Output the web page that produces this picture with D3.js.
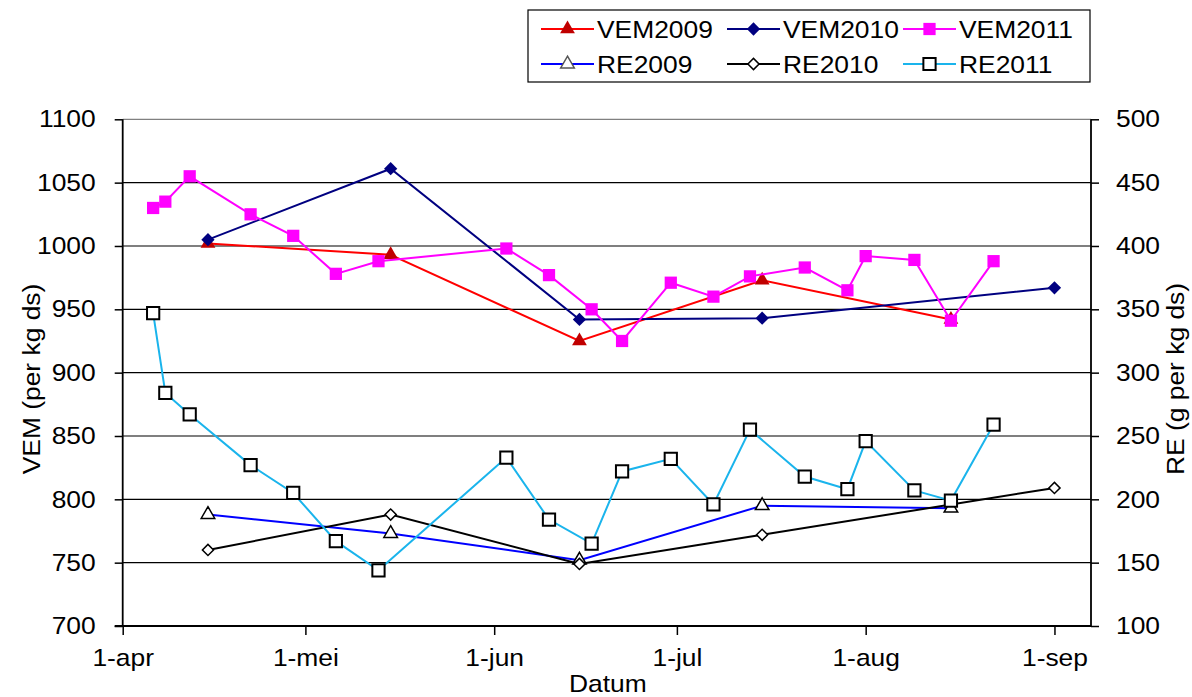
<!DOCTYPE html>
<html><head><meta charset="utf-8">
<script src="https://cdn.jsdelivr.net/npm/d3@7"></script>
<style>
body{margin:0;background:#fff;}
svg text{font-family:"Liberation Sans",Arial,sans-serif;fill:#000;}
.sx{transform-box:fill-box;transform:scaleX(1.1);}
</style></head><body>
<svg id="c" width="1192" height="697"></svg>
<script>
// ---- data ----
const tickDates = ["2011-04-01","2011-05-01","2011-06-01","2011-07-01","2011-08-01","2011-09-01"];
const tickLabels = ["1-apr","1-mei","1-jun","1-jul","1-aug","1-sep"];
const vemTicks = [700,750,800,850,900,950,1000,1050,1100];
const reTicks = [100,150,200,250,300,350,400,450,500];

const dates0910 = ["2011-04-15","2011-05-15","2011-06-15","2011-07-15","2011-08-15"];
const dates2010 = ["2011-04-15","2011-05-15","2011-06-15","2011-07-15","2011-09-01"];
const dates2011 = ["2011-04-06","2011-04-08","2011-04-12","2011-04-22","2011-04-29","2011-05-06","2011-05-13",
  "2011-06-03","2011-06-10","2011-06-17","2011-06-22","2011-06-30","2011-07-07","2011-07-13","2011-07-22",
  "2011-07-29","2011-08-01","2011-08-09","2011-08-15","2011-08-22"];

const vem2009 = [1002, 993, 925, 973, 942];
const vem2010 = [1005, 1061, 942, 943, 967];
const vem2011 = [1030,1035,1055,1025,1008,978,988,998,977,950,925,971,960,976,983,965,992,989,941,988];
const re2009 = [188, 173, 152, 195, 193];
const re2010 = [160, 188, 149, 172, 209];
const re2011 = [347,284,267,227,205,167,144,233,184,165,222,232,196,255,218,208,246,207,199,259];

const seriesNames = ["VEM2009","VEM2010","VEM2011","RE2009","RE2010","RE2011"];

// ---- layout ----
const parse = d3.timeParse("%Y-%m-%d");
const L = 122.7, R = 1091, T = 119.3, B = 626;
const x = d3.scaleTime().domain([parse("2011-04-01"), parse("2011-09-07")]).range([L, R]);
const yL = d3.scaleLinear().domain([700,1100]).range([B, T]);
const yR = d3.scaleLinear().domain([100,500]).range([B, T]);

const svg = d3.select("#c");

// gridlines
svg.append("g").selectAll("line").data(vemTicks.slice(1)).join("line")
  .attr("x1", L).attr("x2", R).attr("y1", d=>yL(d)).attr("y2", d=>yL(d))
  .attr("stroke", (d)=> d===1100 ? "#808080" : "#000").attr("stroke-width", 1.2);

const fs = "24px";
const gL = svg.append("g").attr("transform", `translate(${L},0)`)
  .call(d3.axisLeft(yL).tickValues(vemTicks).tickSize(8).tickPadding(19).tickFormat(d3.format("d")));
const gR = svg.append("g").attr("transform", `translate(${R},0)`)
  .call(d3.axisRight(yR).tickValues(reTicks).tickSize(8).tickPadding(17).tickFormat(d3.format("d")));
const gB = svg.append("g").attr("transform", `translate(0,${B})`)
  .call(d3.axisBottom(x).tickValues(tickDates.map(parse)).tickSize(9).tickPadding(14)
    .tickFormat((d,i)=>tickLabels[i]));
[gL,gR,gB].forEach(g=>{
  g.select(".domain").attr("stroke","#000").attr("stroke-width",1.8);
  g.selectAll(".tick line").attr("stroke","#000").attr("stroke-width",1.5);
  g.selectAll("text").attr("font-size",fs).attr("font-family",null).attr("fill","#000").attr("class","sx");
});
gL.selectAll("text").style("transform-origin","100% 50%");
gR.selectAll("text").style("transform-origin","0% 50%");
gB.selectAll("text").style("transform-origin","50% 50%");
gL.select(".domain").attr("d", `M0,${T}V${B}`);
gR.select(".domain").attr("d", `M0,${T}V${B}`);
gB.select(".domain").attr("d", `M${L-8},0H${R}`);

// axis titles
svg.append("text").attr("transform", `translate(40,${379}) rotate(-90) scale(1.1,1)`)
  .attr("text-anchor","middle").attr("font-size",fs).text("VEM (per kg ds)");
svg.append("text").attr("transform", `translate(1184,${379}) rotate(-90) scale(1.1,1)`)
  .attr("text-anchor","middle").attr("font-size",fs).text("RE (g per kg ds)");
svg.append("text").attr("x", (L+R)/2 + 1).attr("y", 692).attr("text-anchor","middle")
  .attr("font-size",fs).attr("class","sx").style("transform-origin","50% 50%").text("Datum");

// markers
const sq = (s)=> d3.symbol().type(d3.symbolSquare).size(s);
const sym = {
  tri: ()=> d3.symbol().type(d3.symbolTriangle).size(95)(),
  dia: ()=> sq(88)(),
  sq: ()=> sq(150)(),
  triO: ()=> d3.symbol().type(d3.symbolTriangle).size(80)(),
  diaO: ()=> sq(62)(),
  sqO: ()=> sq(150)()
};
const series = [
  {name:seriesNames[0], dates:dates0910, vals:vem2009, y:yL, color:"#ff0000", sym:sym.tri, rot:0, fill:"#c00000", stroke:"none", sw:0},
  {name:seriesNames[1], dates:dates2010, vals:vem2010, y:yL, color:"#000080", sym:sym.dia, rot:45, fill:"#000080", stroke:"none", sw:0},
  {name:seriesNames[2], dates:dates2011, vals:vem2011, y:yL, color:"#ff00ff", sym:sym.sq, rot:0, fill:"#ff00ff", stroke:"none", sw:0},
  {name:seriesNames[3], dates:dates0910, vals:re2009, y:yR, color:"#0000ff", sym:sym.triO, rot:0, fill:"#fff", stroke:"#000", sw:1.5},
  {name:seriesNames[4], dates:dates2010, vals:re2010, y:yR, color:"#000000", sym:sym.diaO, rot:45, fill:"#fff", stroke:"#000", sw:1.5},
  {name:seriesNames[5], dates:dates2011, vals:re2011, y:yR, color:"#1ab4ec", sym:sym.sqO, rot:0, fill:"#fff", stroke:"#000", sw:2}
];
const drawOrder = [3,4,5,0,1,2];
drawOrder.forEach(i=>{
  const s = series[i];
  const pts = s.dates.map((d,j)=>[x(parse(d)), s.y(s.vals[j])]);
  svg.append("path").attr("d", d3.line()(pts)).attr("fill","none")
    .attr("stroke", s.color).attr("stroke-width", 2);
  svg.append("g").selectAll("path").data(pts).join("path")
    .attr("transform", p=>`translate(${p[0]},${p[1]}) rotate(${s.rot})`).attr("d", s.sym())
    .attr("fill", s.fill).attr("stroke", s.stroke).attr("stroke-width", s.sw);
});

// legend
const lg = svg.append("g");
lg.append("rect").attr("x",528).attr("y",10).attr("width",562).attr("height",72)
  .attr("fill","#fff").attr("stroke","#000").attr("stroke-width",1.2);
const colX = [541, 727, 903];
const rowY = [29, 64];
series.forEach((s,i)=>{
  const cx = colX[i%3], cy = rowY[Math.floor(i/3)];
  lg.append("line").attr("x1",cx).attr("x2",cx+53).attr("y1",cy).attr("y2",cy)
    .attr("stroke", s.color).attr("stroke-width",2);
  lg.append("path").attr("transform",`translate(${cx+26.5},${cy}) rotate(${s.rot})`).attr("d", s.sym())
    .attr("fill", s.fill).attr("stroke", i===3 ? "#555" : s.stroke).attr("stroke-width", s.sw);
  lg.append("text").attr("x",cx+56).attr("y",cy).attr("dy","0.36em").attr("font-size",fs)
    .attr("class","sx").style("transform-origin","0% 50%").text(s.name);
});
</script></body></html>
